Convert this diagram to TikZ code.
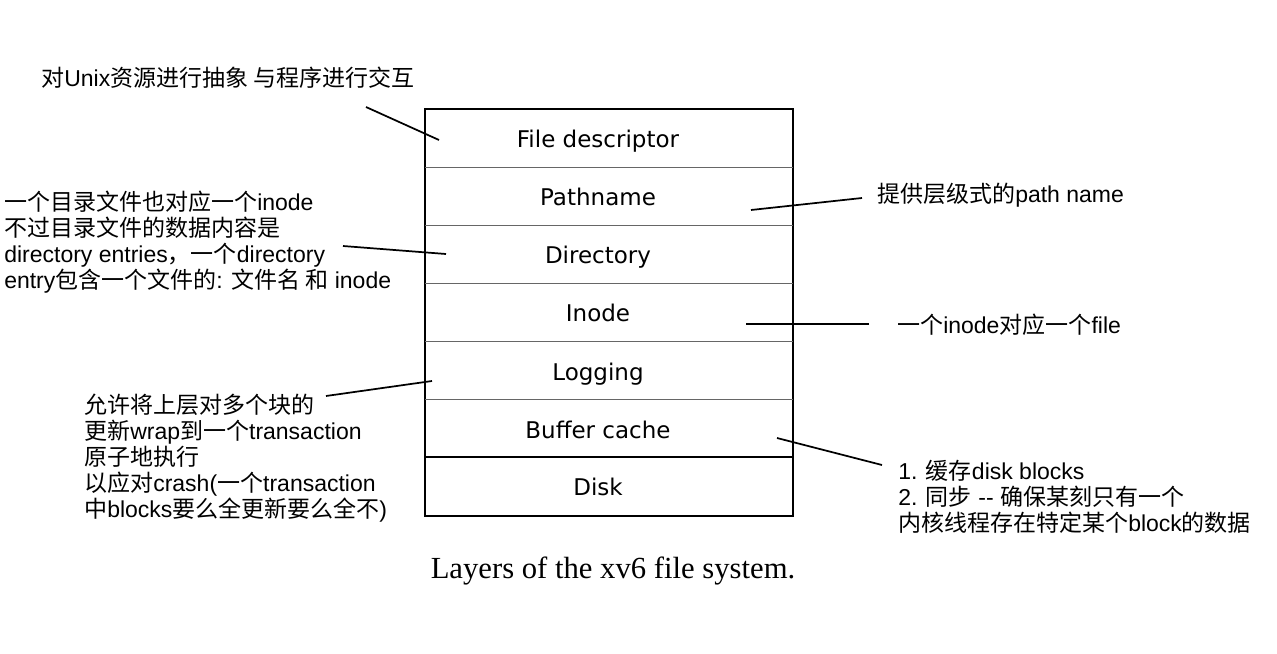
\documentclass[tikz,border=0pt]{standalone}
\usepackage{fontspec}
\newfontfamily\boxfont{DejaVu Sans}
\newfontfamily\notefont{Liberation Sans}
\newfontfamily\capfont{Liberation Serif}
\newfontfamily\cjk{Noto Sans CJK SC}
\newcommand{\zh}[1]{{\cjk #1}}

\begin{document}
\begin{tikzpicture}
[x=0.75pt,y=-0.75pt,%
  layerText/.style={inner sep=0pt,anchor=base,font=\boxfont\fontsize{17.25pt}{20pt}\selectfont},%
  noteText/.style={inner sep=0pt,anchor=west,align=left,font=\notefont\fontsize{17.25pt}{19.5pt}\selectfont},%
  pointer/.style={-,line width=1.3pt},%
  rowLine/.style={draw=black!60,line width=0.6pt}]
\useasboundingbox (0,0) rectangle (1277,653);
%% the layer stack
\draw[line width=1.5pt] (425,109) rectangle (793,516);
\foreach \y in {167,225,283,341,399}
{
  \draw[rowLine] (425,\y) -- (793,\y);
}
\draw[line width=1.5pt] (425,457) -- (793,457);
\foreach \nodename/\txt/\y in {fd/File descriptor/147, path/Pathname/205, dir/Directory/263, ino/Inode/321, log/Logging/380, buf/Buffer cache/438, disk/Disk/495}
{
  \node (\nodename) at (598,\y) [layerText] {\txt};
}
%% notes
\node (noteTop) at (41,78) [noteText] {\zh{对}Unix\zh{资源进行抽象 与程序进行交互}};
\node (noteDir) at (4,242) [noteText] {\zh{一个目录文件也对应一个}inode\\
  \zh{不过目录文件的数据内容是}\\
  directory entries\zh{，一个}directory\\
  entry\zh{包含一个文件的}: \zh{文件名 和} inode};
\node (noteLog) at (84,458) [noteText] {\zh{允许将上层对多个块的}\\
  \zh{更新}wrap\zh{到一个}transaction\\
  \zh{原子地执行}\\
  \zh{以应对}crash(\zh{一个}transaction\\
  \zh{中}blocks\zh{要么全更新要么全不})};
\node (notePath) at (877,195) [noteText] {\zh{提供层级式的}path name};
\node (noteIno) at (897,325) [noteText] {\zh{一个}inode\zh{对应一个}file};
\node (noteBuf) at (898,497) [noteText] {1. \zh{缓存}disk blocks\\
  2. \zh{同步} -{}- \zh{确保某刻只有一个}\\
  \zh{内核线程存在特定某个}block\zh{的数据}};
\node (caption) at (613,571) [inner sep=0pt,font=\capfont\fontsize{23pt}{26pt}\selectfont] {Layers of the xv6 file system.};
%% pointer ends
\coordinate (topEnd) at (366,107);   \coordinate (fdEnd) at (439,140);
\coordinate (dirEnd) at (343,246);   \coordinate (dirIn) at (446,254);
\coordinate (logEnd) at (326,396);   \coordinate (logIn) at (432,381);
\coordinate (pathEnd) at (862,198);  \coordinate (pathIn) at (751,210);
\coordinate (inoEnd) at (869,324);   \coordinate (inoIn) at (746,324);
\coordinate (bufEnd) at (882,465);   \coordinate (bufIn) at (777,438);
\path
\foreach \startnode/\endnode in {topEnd/fdEnd, dirEnd/dirIn, logEnd/logIn, pathEnd/pathIn, inoEnd/inoIn, bufEnd/bufIn}
{
  (\startnode) edge[pointer] (\endnode)
};
\end{tikzpicture}
\end{document}
